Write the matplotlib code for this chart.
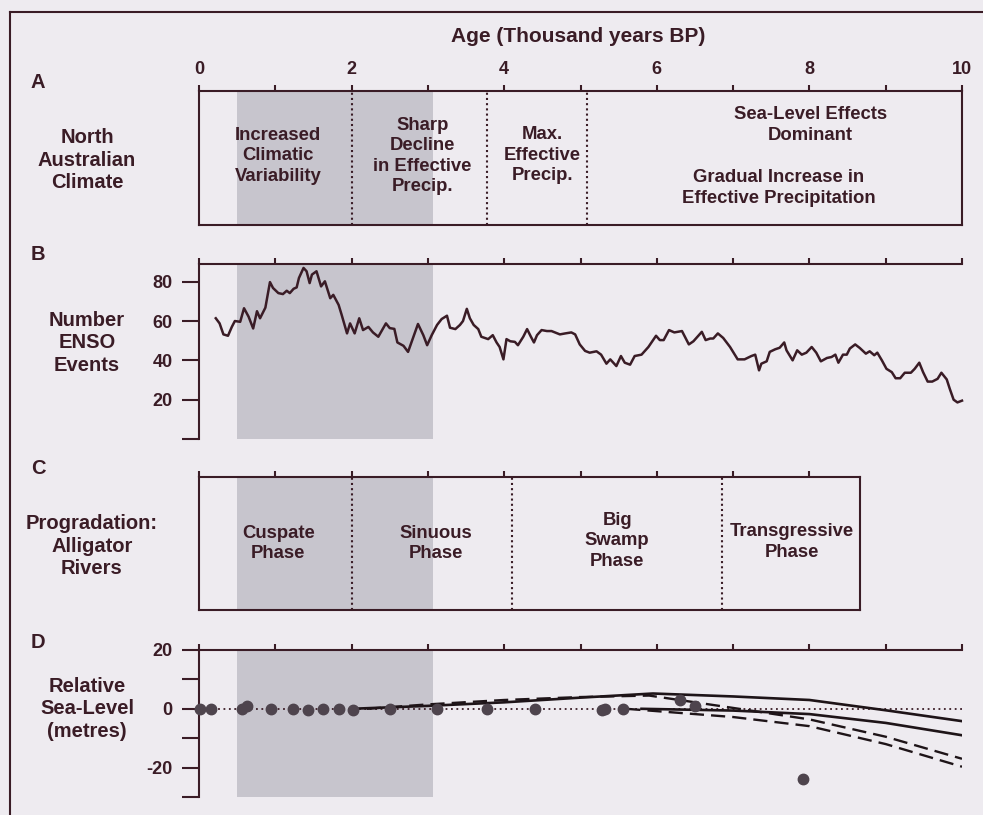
import matplotlib
matplotlib.use("Agg")
import matplotlib.pyplot as plt
from matplotlib.lines import Line2D

# ---- colours / fonts ----
BG = '#EEEBF0'
INK = '#3A1C26'
SHADE = '#C7C5CD'
DOT = '#4E444D'
plt.rcParams['font.family'] = ['Liberation Sans', 'DejaVu Sans']
plt.rcParams['font.weight'] = 'bold'

# ---- data ----
shade_span = (0.5, 3.07)

climate_breaks = [2.0, 3.77, 5.08]
climate_labels = ['Increased\nClimatic\nVariability',
                  'Sharp\nDecline\nin Effective\nPrecip.',
                  'Max.\nEffective\nPrecip.',
                  'Sea-Level Effects\nDominant',
                  'Gradual Increase in\nEffective Precipitation']
climate_label_x = [1.04, 2.93, 4.50, 8.01, 7.60]
climate_label_y = [0.515, 0.515, 0.52, 0.745, 0.275]

enso_age = [0.22, 0.27, 0.32, 0.38, 0.43, 0.47, 0.54, 0.59, 0.65, 0.71, 0.76, 0.80,
            0.87, 0.93, 0.97, 1.04, 1.10, 1.15, 1.19, 1.24, 1.28, 1.31, 1.37, 1.41,
            1.45, 1.48, 1.54, 1.60, 1.65, 1.72, 1.76, 1.83, 1.87, 1.94, 1.98, 2.04,
            2.10, 2.15, 2.22, 2.28, 2.35, 2.45, 2.50, 2.56, 2.60, 2.68, 2.74, 2.81,
            2.87, 2.94, 2.99, 3.05, 3.12, 3.18, 3.25, 3.29, 3.36, 3.42, 3.46, 3.51,
            3.55, 3.60, 3.66, 3.70, 3.79, 3.85, 3.90, 3.94, 3.99, 4.03, 4.08, 4.14,
            4.18, 4.25, 4.30, 4.35, 4.39, 4.43, 4.49, 4.56, 4.62, 4.73, 4.80, 4.88,
            4.93, 4.99, 5.06, 5.12, 5.21, 5.27, 5.34, 5.39, 5.47, 5.53, 5.58, 5.65,
            5.71, 5.80, 5.89, 5.99, 6.04, 6.09, 6.16, 6.23, 6.33, 6.42, 6.48, 6.59,
            6.64, 6.70, 6.74, 6.80, 6.87, 6.96, 7.06, 7.15, 7.24, 7.29, 7.34, 7.37,
            7.44, 7.48, 7.55, 7.61, 7.67, 7.70, 7.78, 7.84, 7.90, 7.96, 8.03, 8.09,
            8.15, 8.23, 8.29, 8.34, 8.38, 8.44, 8.49, 8.53, 8.60, 8.66, 8.74, 8.79,
            8.85, 8.89, 8.95, 9.01, 9.08, 9.13, 9.19, 9.25, 9.33, 9.38, 9.44, 9.49,
            9.55, 9.61, 9.68, 9.73, 9.80, 9.84, 9.89, 9.94, 10.0]
enso_count = [61.4, 58.8, 53.2, 52.5, 57.0, 60.0, 59.6, 66.5, 62.2, 56.2, 65.0, 61.4,
              66.8, 79.8, 76.8, 74.2, 73.7, 75.4, 74.2, 76.4, 77.1, 81.9, 87.0, 85.3,
              79.3, 83.6, 85.3, 77.6, 80.2, 71.6, 73.3, 68.2, 63.1, 53.7, 58.8, 53.7,
              61.4, 55.4, 57.0, 54.2, 52.0, 58.8, 56.4, 56.0, 49.1, 47.4, 44.3, 52.0,
              58.5, 52.8, 47.7, 52.8, 58.0, 61.0, 62.7, 56.6, 55.9, 58.0, 60.0, 66.2,
              61.4, 58.0, 55.9, 52.0, 50.8, 52.8, 49.1, 46.8, 40.5, 50.8, 49.7, 49.4,
              47.7, 52.0, 55.9, 52.0, 49.1, 52.8, 55.4, 54.9, 54.9, 53.2, 53.7, 54.2,
              53.2, 48.1, 44.8, 43.9, 44.6, 42.9, 38.3, 40.5, 37.1, 42.2, 38.8, 37.8,
              42.2, 42.9, 46.8, 52.5, 50.3, 50.3, 55.4, 54.2, 54.9, 48.1, 49.7, 54.5,
              50.3, 51.1, 51.1, 53.7, 51.4, 46.8, 40.5, 40.5, 42.2, 42.9, 34.9, 38.3,
              39.5, 44.3, 45.6, 46.4, 49.1, 45.1, 40.0, 45.1, 42.9, 43.9, 46.8, 43.9,
              39.5, 41.2, 41.7, 42.9, 38.8, 42.9, 42.9, 46.0, 48.1, 46.3, 43.4, 44.6,
              42.6, 43.9, 40.0, 35.7, 34.0, 30.9, 30.9, 33.7, 33.7, 35.7, 38.8, 34.0,
              29.2, 29.2, 30.6, 33.7, 30.3, 25.5, 20.0, 18.6, 19.5]

phase_end = 8.66
phase_breaks = [2.0, 4.1, 6.86]
phase_labels = ['Cuspate\nPhase', 'Sinuous\nPhase', 'Big\nSwamp\nPhase',
                'Transgressive\nPhase']
phase_label_x = [1.04, 3.10, 5.48, 7.77]
phase_label_y = [0.50, 0.50, 0.52, 0.51]

sl_age = [0.01, 0.16, 0.56, 0.63, 0.94, 1.23, 1.43, 1.63, 1.83, 2.02, 2.50, 3.12,
          3.77, 4.40, 5.28, 5.32, 5.56, 6.30, 6.50, 7.92]
sl_level = [0, 0, 0, 1, 0, 0, -0.5, 0, 0, -0.5, 0, 0,
            0, 0, -0.5, 0, 0, 3, 1, -24]

solid_hi_age = [2.0, 3.0, 4.0, 5.0, 5.95, 7.0, 8.0, 9.0, 10.0]
solid_hi_lvl = [0, 1.0, 2.2, 3.8, 5.2, 4.2, 3.0, -0.5, -4.2]
solid_lo_age = [5.8, 7.0, 8.0, 9.0, 10.0]
solid_lo_lvl = [0, -0.6, -1.8, -4.8, -9.0]
dash_hi_age = [2.2, 3.0, 4.0, 5.0, 5.9, 7.0, 8.0, 9.0, 10.0]
dash_hi_lvl = [0, 1.5, 3.0, 4.0, 4.5, 0.3, -3.6, -9.5, -17.0]
dash_lo_age = [5.6, 6.0, 7.0, 8.0, 9.0, 10.0]
dash_lo_lvl = [0, -0.8, -2.8, -5.9, -12.0, -19.7]

# ---- figure ----
W, H = 983, 815
fig = plt.figure(figsize=(W / 100, H / 100), dpi=100, facecolor=BG)


def px_axes(x0, y0, x1, y1):
    return fig.add_axes([x0 / W, 1 - y1 / H, (x1 - x0) / W, (y1 - y0) / H])


def style(ax):
    ax.set_facecolor('none')
    ax.set_xlim(0, 10)
    for s in ax.spines.values():
        s.set_color(INK)
        s.set_linewidth(1.5)
    ax.xaxis.set_ticks_position('top')
    ax.tick_params(axis='x', which='both', direction='out', length=4, width=1.5,
                   color=INK, labeltop=False, labelbottom=False)
    ax.tick_params(axis='y', direction='out', length=12, width=1.5, color=INK,
                   labelsize=13, labelcolor=INK, pad=7)
    ax.axvspan(*shade_span, color=SHADE, lw=0, zorder=0)


def side_label(x, y, txt):
    fig.text(x / W, 1 - y / H, txt, ha='center', va='center', fontsize=14.5,
             color=INK, linespacing=1.26, fontweight='bold')


def box_text(ax, x, y, txt):
    ax.text(x, y, txt, ha='center', va='center', fontsize=13.3, color=INK,
            linespacing=1.26, multialignment='center')


# outer frame
fig.add_artist(Line2D([10 / W, 10 / W], [0, 1 - 12 / H], color=INK, lw=1.5))
fig.add_artist(Line2D([10 / W, 1], [1 - 12 / H, 1 - 12 / H], color=INK, lw=1.5))

fig.text(578 / W, 1 - 36 / H, 'Age (Thousand years BP)', ha='center', va='center',
         fontsize=15, color=INK)
for letter, ly in zip('ABCD', [83, 255, 468, 642]):
    fig.text(31 / W, 1 - ly / H, letter, ha='left', va='center', fontsize=14.5,
             color=INK)

# ---- A: climate ----
axA = px_axes(199, 91, 962, 225)
style(axA)
axA.set_ylim(0, 1)
axA.set_yticks([])
axA.set_xticks(range(0, 11))
axA.set_xticklabels([str(v) if v % 2 == 0 else '' for v in range(0, 11)])
axA.tick_params(axis='x', labeltop=True, labelsize=13, labelcolor=INK, pad=5)
for xb in climate_breaks:
    axA.axvline(xb, color=INK, lw=1.5, ls=(0, (1, 1.5)))
for txt, tx, ty in zip(climate_labels, climate_label_x, climate_label_y):
    box_text(axA, tx, ty, txt)
side_label(87, 160, 'North\nAustralian\nClimate')

# ---- B: ENSO ----
axB = px_axes(199, 264, 962, 439)
style(axB)
axB.set_ylim(0, 89)
axB.spines['bottom'].set_visible(False)
axB.spines['right'].set_visible(False)
axB.set_xticks(range(0, 11))
axB.set_yticks([0, 20, 40, 60, 80])
axB.set_yticklabels(['', '20', '40', '60', '80'])
axB.plot(enso_age, enso_count, color=INK, lw=1.8, clip_on=False)
side_label(87, 343, 'Number\nENSO\nEvents')

# ---- C: progradation ----
axC = px_axes(199, 477, 962, 610)
style(axC)
axC.set_ylim(0, 1)
axC.set_yticks([])
axC.set_xticks(range(0, 9))
axC.spines['top'].set_bounds(0, phase_end)
axC.spines['bottom'].set_bounds(0, phase_end)
axC.spines['right'].set_position(('data', phase_end))
for xb in phase_breaks:
    axC.axvline(xb, color=INK, lw=1.5, ls=(0, (1, 1.5)))
for txt, tx, ty in zip(phase_labels, phase_label_x, phase_label_y):
    box_text(axC, tx, ty, txt)
side_label(92, 546, 'Progradation:\nAlligator\nRivers')

# ---- D: sea level ----
axD = px_axes(199, 650, 962, 797)
style(axD)
axD.set_ylim(-30, 20)
axD.spines['bottom'].set_visible(False)
axD.spines['right'].set_visible(False)
axD.set_xticks(range(0, 11))
axD.set_yticks([-30, -20, -10, 0, 10, 20])
axD.set_yticklabels(['', '-20', '', '0', '', '20'])
axD.axhline(0, xmin=-0.01, color=INK, lw=1.3, ls=(0, (1, 2)), clip_on=False)
axD.plot(solid_hi_age, solid_hi_lvl, color='#1E1418', lw=1.9)
axD.plot(solid_lo_age, solid_lo_lvl, color='#1E1418', lw=1.9)
axD.plot(dash_hi_age, dash_hi_lvl, color='#1E1418', lw=1.7, ls=(0, (6, 3)))
axD.plot(dash_lo_age, dash_lo_lvl, color='#1E1418', lw=1.7, ls=(0, (6, 3)))
axD.plot(sl_age, sl_level, 'o', color=DOT, ms=7.5, mec=DOT, clip_on=False,
         zorder=5)
side_label(87, 709, 'Relative\nSea-Level\n(metres)')

fig.savefig('out.png', dpi=100, facecolor=BG)
